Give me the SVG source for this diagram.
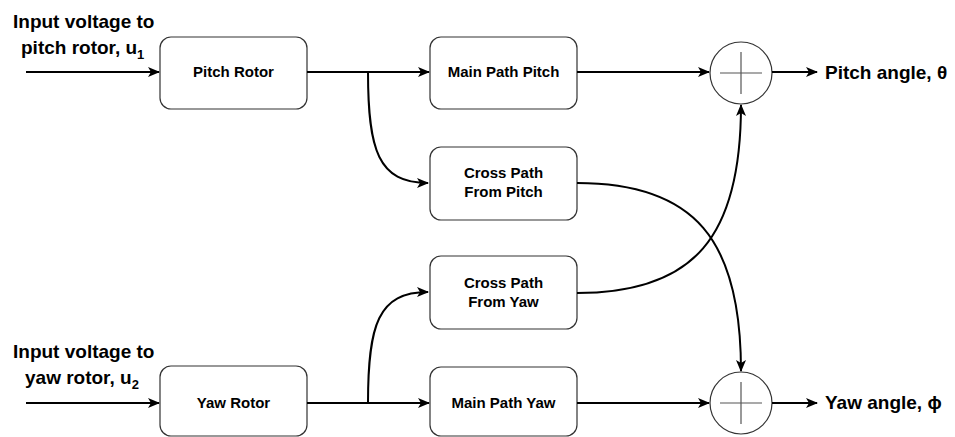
<svg xmlns="http://www.w3.org/2000/svg" width="955" height="437" viewBox="0 0 955 437">
<defs>
<marker id="arr" viewBox="0 0 12 10" refX="11" refY="5" markerWidth="12" markerHeight="10" markerUnits="userSpaceOnUse" orient="auto">
<path d="M0,0 L12,5 L0,10 L3,5 Z" fill="#000"/>
</marker>
<style>
.box{fill:#fff;stroke:#333;stroke-width:1.2}
.lbl{font-family:"Liberation Sans",Arial,sans-serif;font-weight:bold;font-size:15px;fill:#000;text-anchor:middle}
.big{font-family:"Liberation Sans",Arial,sans-serif;font-weight:bold;font-size:19px;fill:#000}
.edge{fill:none;stroke:#000;stroke-width:2}
.sum{fill:#fff;stroke:#333;stroke-width:1.2}
.plus{stroke:#555;stroke-width:1.2}
</style>
</defs>
<rect width="955" height="437" fill="#fff"/>

<g id="input-pitch-label">
<text class="big" x="13" y="28">Input voltage to</text>
<text class="big" x="21" y="54">pitch rotor, u<tspan font-size="13" dy="5">1</tspan></text>
</g>
<g id="input-yaw-label">
<text class="big" x="13" y="358">Input voltage to</text>
<text class="big" x="25" y="384">yaw rotor, u<tspan font-size="13" dy="5">2</tspan></text>
</g>

<g id="pitch-rotor"><rect class="box" x="160" y="37" width="147" height="72" rx="11"/><text class="lbl" x="233.5" y="77">Pitch Rotor</text></g>
<g id="main-path-pitch"><rect class="box" x="430" y="37" width="147" height="72" rx="11"/><text class="lbl" x="503.5" y="77">Main Path Pitch</text></g>
<g id="cross-path-pitch"><rect class="box" x="430" y="147" width="147" height="73" rx="11"/><text class="lbl" x="503.5" y="178">Cross Path</text><text class="lbl" x="503.5" y="197">From Pitch</text></g>
<g id="cross-path-yaw"><rect class="box" x="430" y="256" width="147" height="73" rx="11"/><text class="lbl" x="503.5" y="288">Cross Path</text><text class="lbl" x="503.5" y="307">From Yaw</text></g>
<g id="yaw-rotor"><rect class="box" x="160" y="366" width="147" height="70" rx="11"/><text class="lbl" x="233.5" y="408">Yaw Rotor</text></g>
<g id="main-path-yaw"><rect class="box" x="430" y="367" width="147" height="69" rx="11"/><text class="lbl" x="503.5" y="408">Main Path Yaw</text></g>

<g id="sum-pitch"><circle class="sum" cx="741" cy="73" r="31"/><line class="plus" x1="720" y1="73" x2="762" y2="73"/><line class="plus" x1="741" y1="52" x2="741" y2="94"/></g>
<g id="sum-yaw"><circle class="sum" cx="741" cy="403" r="31"/><line class="plus" x1="720" y1="403" x2="762" y2="403"/><line class="plus" x1="741" y1="382" x2="741" y2="424"/></g>

<g id="output-pitch-label"><text class="big" x="825" y="79">Pitch angle, θ</text></g>
<g id="output-yaw-label"><text class="big" x="825" y="409">Yaw angle, ϕ</text></g>

<g id="connectors">
<path class="edge" d="M26,72 L159,72" marker-end="url(#arr)"/>
<path class="edge" d="M307,72 L429,72" marker-end="url(#arr)"/>
<path class="edge" d="M368,72 C368,150 378,183 428,183" marker-end="url(#arr)"/>
<path class="edge" d="M577,72 L709,72" marker-end="url(#arr)"/>
<path class="edge" d="M772,72 L817,72" marker-end="url(#arr)"/>
<path class="edge" d="M577,183 C695,183 741,240 741,371" marker-end="url(#arr)"/>
<path class="edge" d="M577,293 C695,293 741,236 741,105" marker-end="url(#arr)"/>
<path class="edge" d="M26,403 L159,403" marker-end="url(#arr)"/>
<path class="edge" d="M307,403 L429,403" marker-end="url(#arr)"/>
<path class="edge" d="M368,403 C368,325 378,292 428,292" marker-end="url(#arr)"/>
<path class="edge" d="M577,403 L709,403" marker-end="url(#arr)"/>
<path class="edge" d="M772,403 L817,403" marker-end="url(#arr)"/>
</g>
</svg>
